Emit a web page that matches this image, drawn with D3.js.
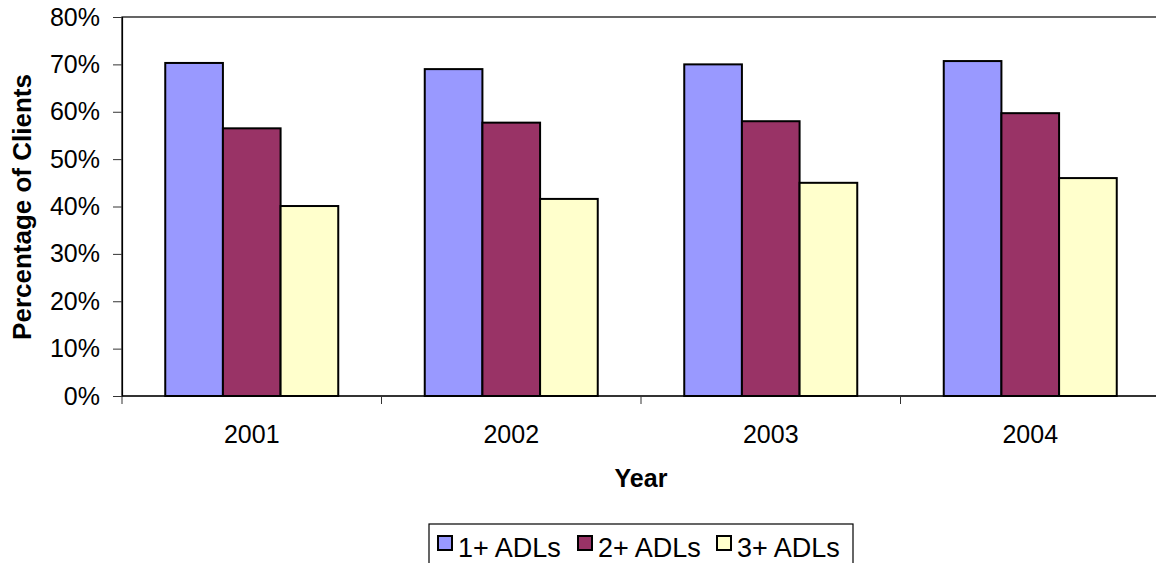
<!DOCTYPE html>
<html>
<head>
<meta charset="utf-8">
<script src="https://cdn.jsdelivr.net/npm/d3@7"></script>
<style>
  html, body { margin: 0; padding: 0; background: #fff; }
  svg { display: block; }
  text { font-family: Arial, "Liberation Sans", sans-serif; fill: #000; }
</style>
</head>
<body>
<svg id="chart" width="1156" height="563"></svg>
<script>
// Share of clients needing help with 1, 2 or 3+ activities of daily living
const years = ["2001", "2002", "2003", "2004"];
const seriesNames = ["1+ ADLs", "2+ ADLs", "3+ ADLs"];
const onePlus   = [70.3, 69.0, 70.0, 70.7];
const twoPlus   = [56.5, 57.7, 58.0, 59.7];
const threePlus = [40.1, 41.6, 45.0, 46.0];
const yTicks = [0, 10, 20, 30, 40, 50, 60, 70, 80];
const colors = ["#9999FF", "#993366", "#FFFFCC"];

const series = [onePlus, twoPlus, threePlus];

const svg = d3.select("#chart");
const plot = { left: 122, right: 1160, top: 17, bottom: 396 };

const x = d3.scaleBand()
  .domain(years)
  .range([plot.left, plot.right])
  .paddingInner(0)
  .paddingOuter(0);

// bars occupy 3 of 4.5 bar-widths per category (gap width 150%)
const groupPad = x.bandwidth() * 0.75 / 4.5;
const xInner = d3.scaleBand()
  .domain(d3.range(series.length))
  .range([groupPad, x.bandwidth() - groupPad]);

const y = d3.scaleLinear().domain([0, 80]).range([plot.bottom, plot.top]);

// plot frame
svg.append("rect")
  .attr("x", plot.left).attr("y", plot.top)
  .attr("width", plot.right - plot.left)
  .attr("height", plot.bottom - plot.top)
  .attr("fill", "none").attr("stroke", "#000").attr("stroke-width", 1.2);

// bars
const groups = svg.append("g").selectAll("g")
  .data(years)
  .join("g")
  .attr("transform", d => `translate(${x(d)},0)`);

groups.selectAll("rect")
  .data((d, i) => series.map((s, k) => ({ k, v: s[i] })))
  .join("rect")
  .attr("x", d => xInner(d.k))
  .attr("y", d => y(d.v))
  .attr("width", xInner.bandwidth())
  .attr("height", d => y(0) - y(d.v))
  .attr("fill", d => colors[d.k])
  .attr("stroke", "#000")
  .attr("stroke-width", 2);

// y axis
const yAxis = svg.append("g")
  .attr("transform", `translate(${plot.left},0)`)
  .call(d3.axisLeft(y).tickValues(yTicks).tickFormat(d => d + "%").tickSize(9).tickPadding(13));
yAxis.select(".domain").attr("stroke", "#000").attr("stroke-width", 1.2);
yAxis.selectAll(".tick line").attr("stroke", "#333");
yAxis.selectAll("text")
  .style("font-size", "25px")
  .attr("font-family", "Arial, 'Liberation Sans', sans-serif")
  .attr("fill", "#000");

// x axis: ticks on category boundaries, labels at centres
const xAxisG = svg.append("g").attr("transform", `translate(0,${plot.bottom})`);
xAxisG.append("line")
  .attr("x1", plot.left).attr("x2", plot.right)
  .attr("stroke", "#000").attr("stroke-width", 1.2);
xAxisG.selectAll("line.tick")
  .data(years.concat(["end"]))
  .join("line")
  .attr("class", "tick")
  .attr("x1", (d, i) => plot.left + i * x.step())
  .attr("x2", (d, i) => plot.left + i * x.step())
  .attr("y1", 0).attr("y2", 8)
  .attr("stroke", "#333");
xAxisG.selectAll("text")
  .data(years)
  .join("text")
  .attr("x", d => x(d) + x.bandwidth() / 2)
  .attr("y", 47)
  .attr("text-anchor", "middle")
  .style("font-size", "25px")
  .text(d => d);

// axis titles
svg.append("text")
  .attr("x", 641).attr("y", 487)
  .attr("text-anchor", "middle")
  .style("font-size", "25px").style("font-weight", "bold")
  .text("Year");

svg.append("text")
  .attr("transform", "translate(31,207) rotate(-90)")
  .attr("text-anchor", "middle")
  .style("font-size", "26px").style("font-weight", "bold")
  .text("Percentage of Clients");

// legend
const legend = svg.append("g");
legend.append("rect")
  .attr("x", 429).attr("y", 524)
  .attr("width", 424).attr("height", 50)
  .attr("fill", "#fff").attr("stroke", "#000").attr("stroke-width", 1.2);

const legendX = [438, 578, 717];
const items = legend.selectAll("g.item")
  .data(seriesNames)
  .join("g")
  .attr("class", "item")
  .attr("transform", (d, i) => `translate(${legendX[i]},536)`);
items.append("rect")
  .attr("width", 14).attr("height", 14)
  .attr("fill", (d, i) => colors[i])
  .attr("stroke", "#000").attr("stroke-width", 2);
items.append("text")
  .attr("x", 20).attr("y", 21)
  .style("font-size", "27px")
  .text(d => d);
</script>
</body>
</html>
